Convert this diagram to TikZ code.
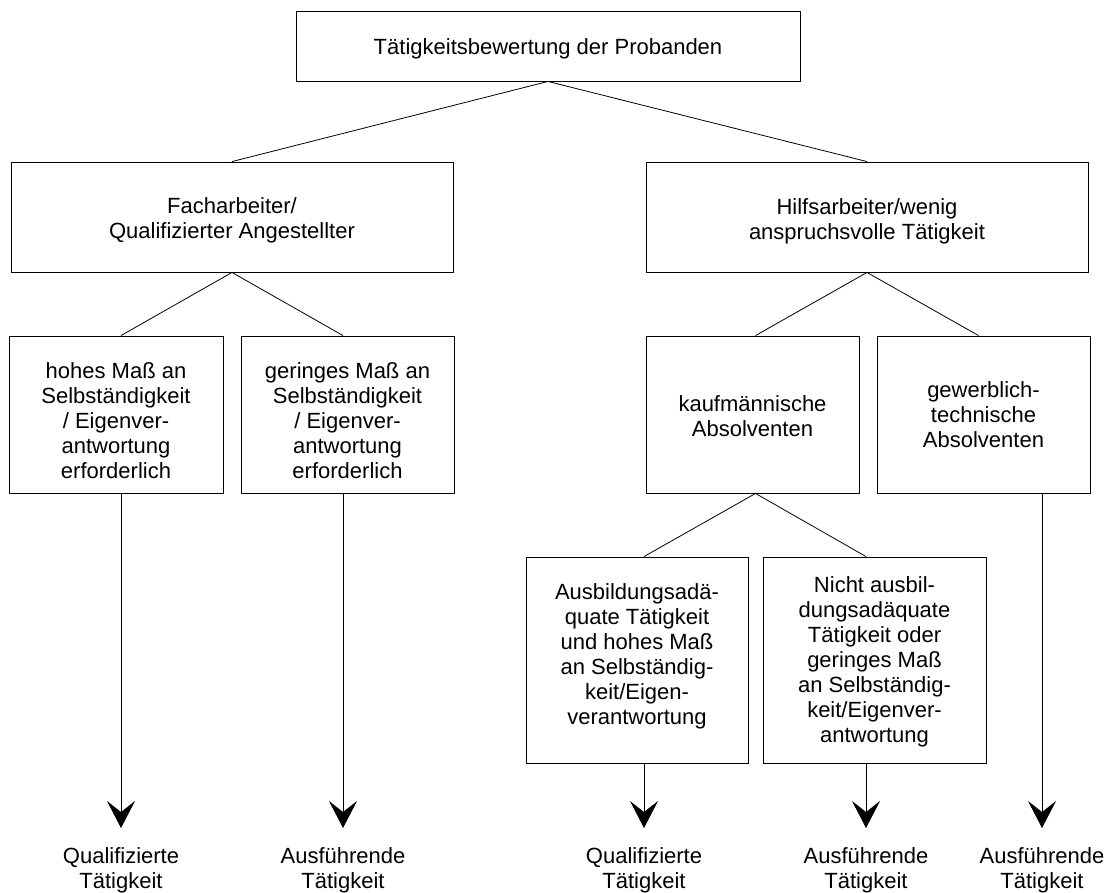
\documentclass[tikz,border=0pt]{standalone}
\usepackage{fontspec}
\setmainfont{Liberation Sans}
\usetikzlibrary{arrows.meta}
\begin{document}
\begin{tikzpicture}[x=1pt,y=-1pt,
  box/.style={draw, line width=0.9pt, inner sep=0pt},
  txt/.style={align=center, inner sep=0pt, font=\fontsize{22}{25}\selectfont},
  lab/.style={txt, anchor=north},
  conn/.style={line width=0.8pt},
  arr/.style={line width=0.8pt, shorten >=19pt,
    -{Stealth[length=27pt,width=28pt,inset=11pt]}}]
\useasboundingbox (0,0) rectangle (1113,892);

\node[box, minimum width=504pt, minimum height=70pt,
  label={[txt,yshift=-3pt]center:Tätigkeitsbewertung der Probanden}] (top) at (548,46) {};

\node[box, minimum width=442pt, minimum height=110pt,
  label={[txt,yshift=-3pt]center:{Facharbeiter/\\Qualifizierter Angestellter}}] (fach) at (232,217) {};
\node[box, minimum width=442pt, minimum height=110pt,
  label={[txt,yshift=-4pt]center:{Hilfsarbeiter/wenig\\anspruchsvolle Tätigkeit}}] (hilf) at (867,217) {};

\node[box, minimum width=214pt, minimum height=157pt,
  label={[txt,yshift=-6pt]center:{hohes Maß an\\Selbständigkeit\\/ Eigenver-\\antwortung\\erforderlich}}] (hohes) at (116,414.5) {};
\node[box, minimum width=213pt, minimum height=157pt,
  label={[txt,yshift=-6pt]center:{geringes Maß an\\Selbständigkeit\\/ Eigenver-\\antwortung\\erforderlich}}] (gering) at (347.5,414.5) {};
\node[box, minimum width=213pt, minimum height=157pt,
  label={[txt,yshift=-2pt]center:{kaufmännische\\Absolventen}}] (kauf) at (752.5,414.5) {};
\node[box, minimum width=213pt, minimum height=157pt,
  label={[txt]center:{gewerblich-\\technische\\Absolventen}}] (gewerb) at (983.5,414.5) {};

\node[box, minimum width=222pt, minimum height=206pt,
  label={[txt,yshift=4pt]center:{Ausbildungsadä-\\quate Tätigkeit\\und hohes Maß\\an Selbständig-\\keit/Eigen-\\verantwortung}}] (ausb) at (637,660) {};
\node[box, minimum width=223pt, minimum height=206pt,
  label={[txt,yshift=-2pt]center:{Nicht ausbil-\\dungsadäquate\\Tätigkeit oder\\geringes Maß\\an Selbständig-\\keit/Eigenver-\\antwortung}}] (nicht) at (874.5,660) {};

\node[lab] (l1) at (121,847) {Qualifizierte\\Tätigkeit};
\node[lab] (l2) at (343,847) {Ausführende\\Tätigkeit};
\node[lab] (l3) at (644,847) {Qualifizierte\\Tätigkeit};
\node[lab] (l4) at (866,847) {Ausführende\\Tätigkeit};
\node[lab] (l5) at (1042,847) {Ausführende\\Tätigkeit};

\draw[conn] (top.south) -- (fach.north);
\draw[conn] (top.south) -- (hilf.north);
\draw[conn] (fach.south) -- (hohes.north -| l1);
\draw[conn] (fach.south) -- (gering.north -| l2);
\draw[conn] (hilf.south) -- ([xshift=3pt]kauf.north);
\draw[conn] (hilf.south) -- ([xshift=-5pt]gewerb.north);
\draw[conn] ([xshift=3pt]kauf.south) -- (ausb.north -| l3);
\draw[conn] ([xshift=3pt]kauf.south) -- (nicht.north -| l4);

\draw[arr] (hohes.south -| l1) -- (l1.north);
\draw[arr] (gering.south -| l2) -- (l2.north);
\draw[arr] (ausb.south -| l3) -- (l3.north);
\draw[arr] (nicht.south -| l4) -- (l4.north);
\draw[arr] (gewerb.south -| l5) -- (l5.north);
\end{tikzpicture}
\end{document}
